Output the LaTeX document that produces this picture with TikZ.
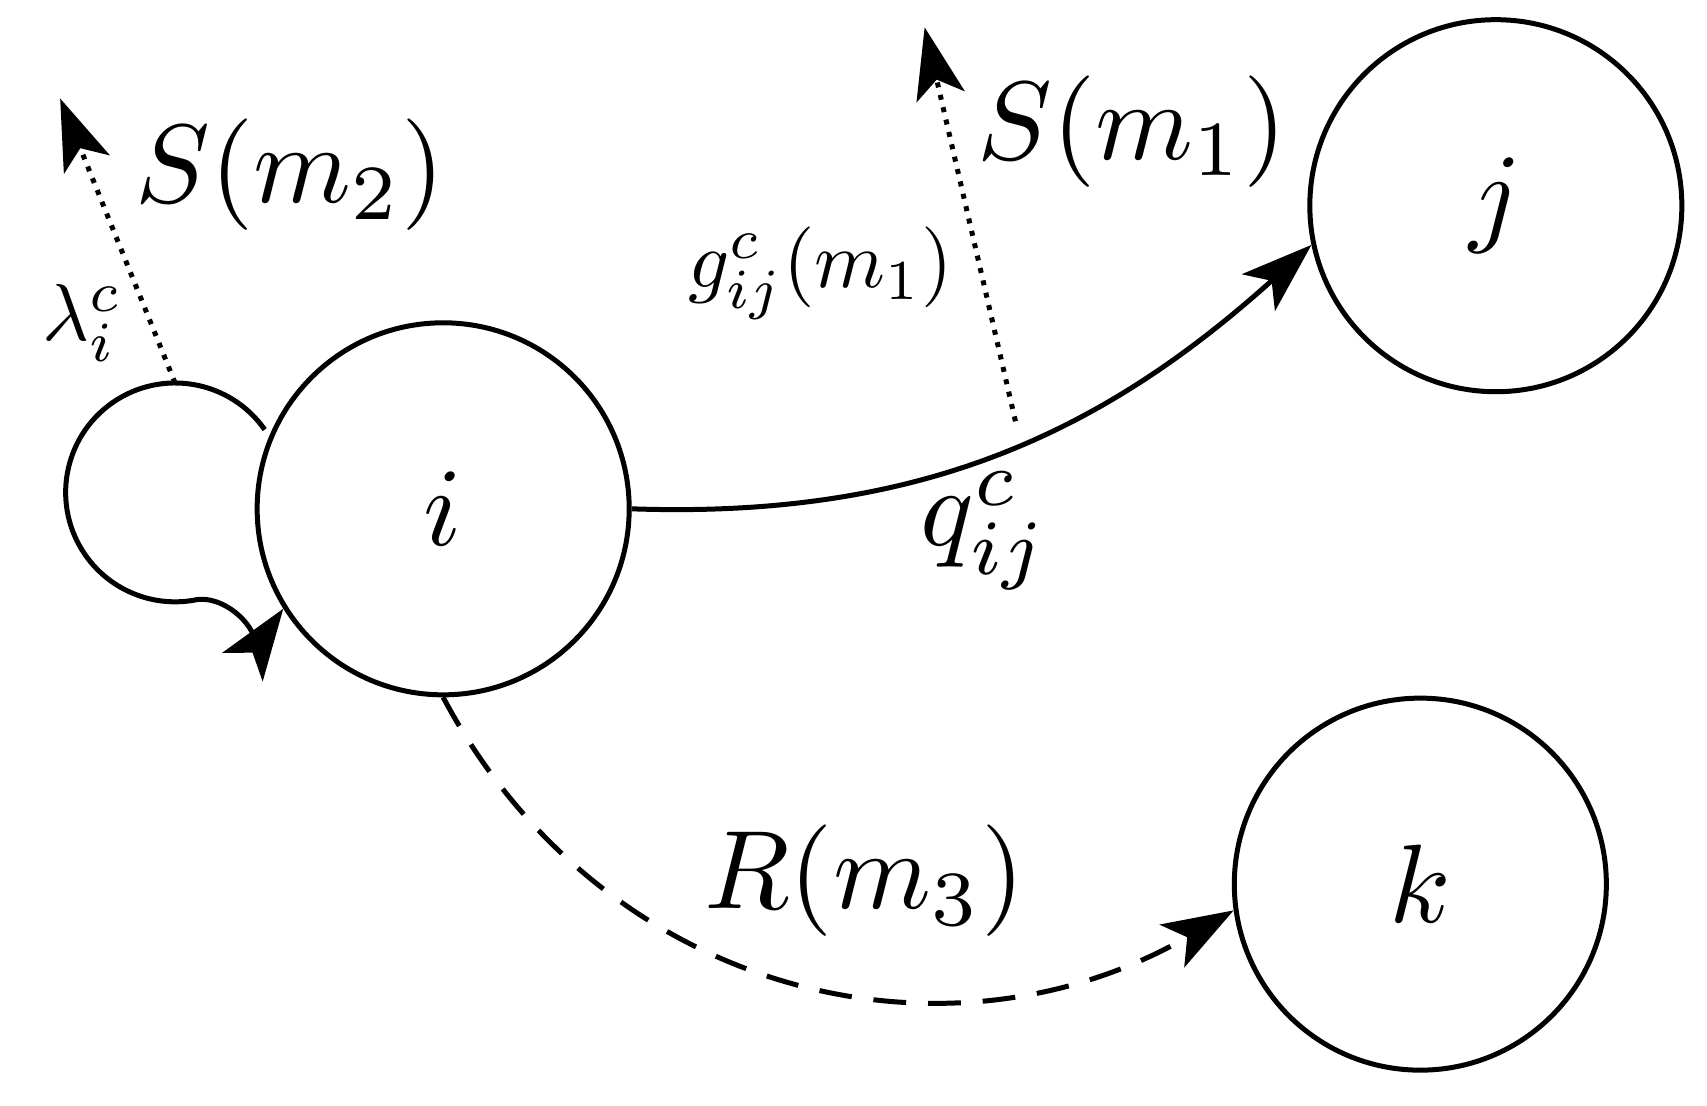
\documentclass[tikz,border=0pt]{standalone}
\usetikzlibrary{arrows.meta}
\begin{document}
\begin{tikzpicture}[line width=1.3pt,
    state/.style={draw, circle, minimum size=3.4cm, inner sep=0pt},
    big/.style={scale=2.9},
    small/.style={scale=2.1},
    tip/.style={-{Stealth[length=0.65cm,width=0.45cm,inset=0.16cm]}}]
    \useasboundingbox (0,0) rectangle (15.6,10.1);
    % states
    \node[state] (i) at (4.05,5.45) {};
    \node[big] at (i) {$i$};
    \node[state] (j) at (13.67,8.22) {};
    \node[big] at (j) {$j$};
    \node[state] (k) at (12.98,2.02) {};
    \node[big] at (k) {$k$};

    % self loop on i
    \coordinate (lc) at (1.6,5.6);
    \draw[tip] ([shift={(35:1cm)}]lc) arc (35:282:1cm) to[out=5,in=-125] (i.212);
    \coordinate (ltop) at (1.6,6.6);
    \coordinate (lend) at (0.55,9.2);
    \draw[dotted, tip] (ltop) -- (lend);
    \node[big] (s2) at (2.65,8.5) {$S(m_2)$};
    \node[small] (lam) at (0.75,7.15) {$\lambda_i^c$};

    % i to j
    \draw[tip] (i.east) to[out=-2,in=-138] (j.192);
    \coordinate (g1) at (8.45,9.85);
    \draw[dotted, tip] (9.28,6.25) -- (g1);
    \node[big] (s1) at (10.35,8.9) {$S(m_1)$};
    \node[small] (g) at (7.5,7.6) {$g^c_{ij}(m_1)$};
    \node[big] (q) at (9.0,5.25) {$q^c_{ij}$};

    % i to k
    \draw[dashed, dash pattern=on 0.3cm off 0.2cm, tip] (i.south) to[out=-62,in=-150,looseness=1.05] (k.188);
    \node[big] (r) at (7.9,2.05) {$R(m_3)$};
\end{tikzpicture}
\end{document}
